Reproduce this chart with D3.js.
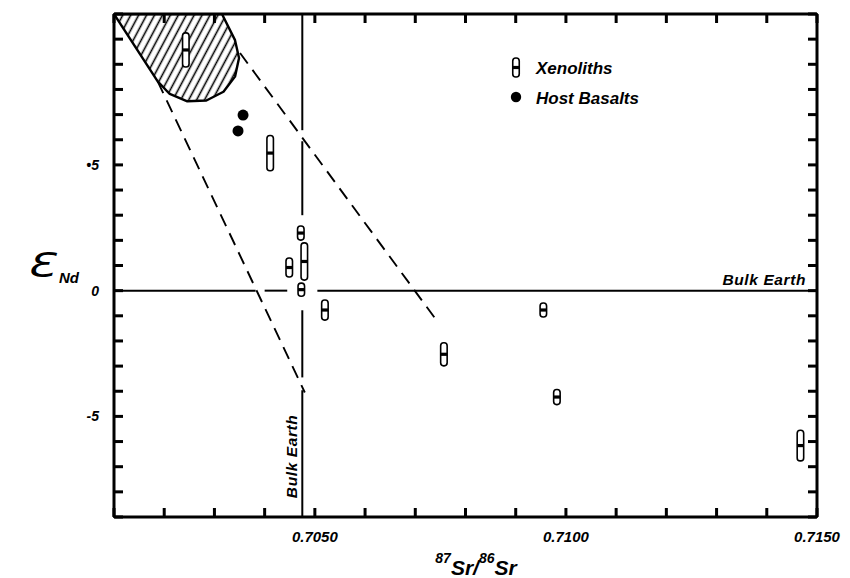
<!DOCTYPE html>
<html>
<head>
<meta charset="utf-8">
<script src="https://cdn.jsdelivr.net/npm/d3@7/dist/d3.min.js"></script>
<style>
  html, body { margin: 0; padding: 0; background: #fff; }
  svg { display: block; }
  text { font-family: "Liberation Sans", Arial, Helvetica, sans-serif; font-weight: bold; font-style: italic; fill: #000; }
</style>
</head>
<body>
<svg id="chart" width="850" height="578"></svg>
<script>
// 87Sr/86Sr ratio and epsilon-Nd of xenoliths (with Nd uncertainty) and host basalts
const xenolithSr  = [0.70243, 0.70411, 0.70472, 0.70479, 0.70449, 0.70473, 0.70520, 0.70955, 0.70757, 0.70982, 0.71467];
const xenolithNd  = [9.57, 5.47, 2.29, 1.16, 0.92, 0.04, -0.77, -0.77, -2.53, -4.23, -6.16];
const xenolithErr = [0.68, 0.70, 0.28, 0.74, 0.38, 0.26, 0.40, 0.28, 0.46, 0.30, 0.61];

const basaltSr = [0.70357, 0.70347];
const basaltNd = [6.98, 6.35];

// Bulk Earth reference values
const bulkEarthSr = 0.70475;
const bulkEarthNd = 0;
// visible spans of the reference lines (breaks where symbols sit)
const bulkSrSpans = [[11, 6.38], [5.94, 3.0], [-0.78, -3.45], [-3.96, -9]];
const bulkNdSpans = [[0.7010, 0.70382], [0.70400, 0.70445], [0.70505, 0.7150]];

// dashed mixing envelope
const envelopeLeft  = [[0.70187, 8.32], [0.70480, -4.05]];
const envelopeRight = [[0.70351, 9.45], [0.70739, -1.09]];

// hatched depleted-mantle field outline
const mantleField = [
  [0.70100, 11.0], [0.70187, 8.32], [0.70211, 7.82], [0.70246, 7.53],
  [0.70284, 7.56], [0.70318, 7.91], [0.70341, 8.51], [0.70349, 9.25],
  [0.70341, 9.96], [0.70315, 11.0]
];

// axes
const xDomain = [0.7010, 0.7150];
const yDomain = [-9, 11];
const xTickStep = 0.001;
const yTickStep = 1;
const xLabelValues = [0.7050, 0.7100, 0.7150];
const xLabelTexts  = ["0.7050", "0.7100", "0.7150"];
const yLabelValues = [5, 0, -5];
const yLabelTexts  = ["\u20225", "0", "-5"];

const legendItems = ["Xenoliths", "Host Basalts"];

const margin = { left: 114, right: 33, top: 14, bottom: 61 };
const W = 850, H = 578;
const svg = d3.select("#chart");

const x = d3.scaleLinear().domain(xDomain).range([margin.left, W - margin.right]);
const y = d3.scaleLinear().domain(yDomain).range([H - margin.bottom, margin.top]);

// hatch pattern
const defs = svg.append("defs");
const pat = defs.append("pattern")
  .attr("id", "hatch").attr("patternUnits", "userSpaceOnUse")
  .attr("width", 7).attr("height", 7)
  .attr("patternTransform", "rotate(28)");
pat.append("line").attr("x1", 3.5).attr("y1", 0).attr("x2", 3.5).attr("y2", 7)
  .attr("stroke", "#000").attr("stroke-width", 1.6);

const clip = defs.append("clipPath").attr("id", "plotclip");
clip.append("rect").attr("x", x(xDomain[0])).attr("y", y(yDomain[1]))
  .attr("width", x(xDomain[1]) - x(xDomain[0])).attr("height", y(yDomain[0]) - y(yDomain[1]));

const plot = svg.append("g").attr("clip-path", "url(#plotclip)");

// mantle field
const line = d3.line().x(d => x(d[0])).y(d => y(d[1]));
plot.append("path").attr("d", line(mantleField) + "Z")
  .attr("fill", "url(#hatch)").attr("stroke", "#000").attr("stroke-width", 2.4)
  .attr("stroke-linejoin", "round");

// bulk earth lines
bulkSrSpans.forEach(s => {
  plot.append("line").attr("x1", x(bulkEarthSr)).attr("x2", x(bulkEarthSr))
    .attr("y1", y(s[0])).attr("y2", y(s[1])).attr("stroke", "#000").attr("stroke-width", 2);
});
bulkNdSpans.forEach(s => {
  plot.append("line").attr("x1", x(s[0])).attr("x2", x(s[1]))
    .attr("y1", y(bulkEarthNd)).attr("y2", y(bulkEarthNd)).attr("stroke", "#000").attr("stroke-width", 2);
});

// dashed envelope
[envelopeLeft, envelopeRight].forEach(seg => {
  plot.append("path").attr("d", line(seg)).attr("fill", "none")
    .attr("stroke", "#000").attr("stroke-width", 1.9).attr("stroke-dasharray", "13,8");
});

// xenolith symbol: open capsule spanning the Nd uncertainty with a solid centre mark
function capsule(g, cx, yTop, yBot) {
  const w = 6.5;
  g.append("rect").attr("x", cx - w / 2).attr("y", yTop).attr("width", w).attr("height", yBot - yTop)
    .attr("rx", 3).attr("ry", 3).attr("fill", "#fff").attr("stroke", "#000").attr("stroke-width", 1.6);
  const cy = (yTop + yBot) / 2;
  g.append("rect").attr("x", cx - w / 2).attr("y", cy - 1.6).attr("width", w).attr("height", 3.2).attr("fill", "#000");
}
const xenoG = plot.append("g");
xenolithSr.forEach((sr, i) => {
  capsule(xenoG, x(sr), y(xenolithNd[i] + xenolithErr[i]), y(xenolithNd[i] - xenolithErr[i]));
});

// host basalts
plot.append("g").selectAll("circle").data(basaltSr).join("circle")
  .attr("cx", d => x(d)).attr("cy", (d, i) => y(basaltNd[i])).attr("r", 5.5).attr("fill", "#000");

// inward ticks on all four sides (small filled bars)
const xTicks = d3.range(Math.round((xDomain[1] - xDomain[0]) / xTickStep) + 1).map(i => xDomain[0] + i * xTickStep);
const yTicks = d3.range(Math.round((yDomain[1] - yDomain[0]) / yTickStep) + 1).map(i => yDomain[0] + i * yTickStep);
const tickLen = 9, tickW = 3;
const x0 = x(xDomain[0]), x1 = x(xDomain[1]), y0 = y(yDomain[0]), y1 = y(yDomain[1]);
const tg = svg.append("g");
xTicks.forEach(v => {
  tg.append("rect").attr("x", x(v) - tickW / 2).attr("y", y0 - tickLen).attr("width", tickW).attr("height", tickLen).attr("fill", "#000");
  tg.append("rect").attr("x", x(v) - tickW / 2).attr("y", y1).attr("width", tickW).attr("height", tickLen).attr("fill", "#000");
});
yTicks.forEach(v => {
  tg.append("rect").attr("x", x0).attr("y", y(v) - tickW / 2).attr("width", tickLen).attr("height", tickW).attr("fill", "#000");
  tg.append("rect").attr("x", x1 - tickLen).attr("y", y(v) - tickW / 2).attr("width", tickLen).attr("height", tickW).attr("fill", "#000");
});

// frame
svg.append("rect").attr("x", x0).attr("y", y1)
  .attr("width", x1 - x0).attr("height", y0 - y1)
  .attr("fill", "none").attr("stroke", "#000").attr("stroke-width", 3).attr("rx", 1.5);

// tick labels
svg.append("g").selectAll("text").data(xLabelValues).join("text")
  .attr("x", d => x(d)).attr("y", y0 + 25).attr("text-anchor", "middle")
  .attr("font-size", 15).text((d, i) => xLabelTexts[i]);
svg.append("g").selectAll("text").data(yLabelValues).join("text")
  .attr("x", x0 - 15).attr("y", d => y(d) + 5).attr("text-anchor", "end")
  .attr("font-size", 14).text((d, i) => yLabelTexts[i]);

// axis titles
svg.append("text").attr("transform", "translate(26,277) scale(1.35,1)")
  .style("font-family", "DejaVu Sans").style("font-weight", "normal")
  .attr("font-size", 34).text("\u0190");
svg.append("text").attr("x", 59).attr("y", 283).attr("font-size", 15).text("Nd");

const xt = svg.append("text").attr("x", 476).attr("y", 575).attr("text-anchor", "middle");
xt.append("tspan").attr("font-size", 14).attr("dy", -12).text("87");
xt.append("tspan").attr("font-size", 21).attr("dy", 12).text("Sr/");
xt.append("tspan").attr("font-size", 14).attr("dy", -12).text("86");
xt.append("tspan").attr("font-size", 21).attr("dy", 12).text("Sr");

// bulk earth labels
svg.append("text").attr("x", x1 - 11).attr("y", y(bulkEarthNd) - 6).attr("text-anchor", "end")
  .attr("font-size", 15.5).attr("letter-spacing", 0.6).text("Bulk Earth");
svg.append("text").attr("transform", `translate(${x(bulkEarthSr) - 5},${y(-8.25)}) rotate(-90)`)
  .attr("font-size", 15.5).attr("letter-spacing", 0.6).text("Bulk Earth");

// legend
const lg = svg.append("g");
capsule(lg, 516, 58, 77);
lg.append("circle").attr("cx", 516).attr("cy", 97).attr("r", 5.2).attr("fill", "#000");
lg.selectAll("text.lab").data(legendItems).join("text").attr("class", "lab")
  .attr("x", 536).attr("y", (d, i) => 74 + i * 30).attr("font-size", 17).text(d => d);
</script>
</body>
</html>
